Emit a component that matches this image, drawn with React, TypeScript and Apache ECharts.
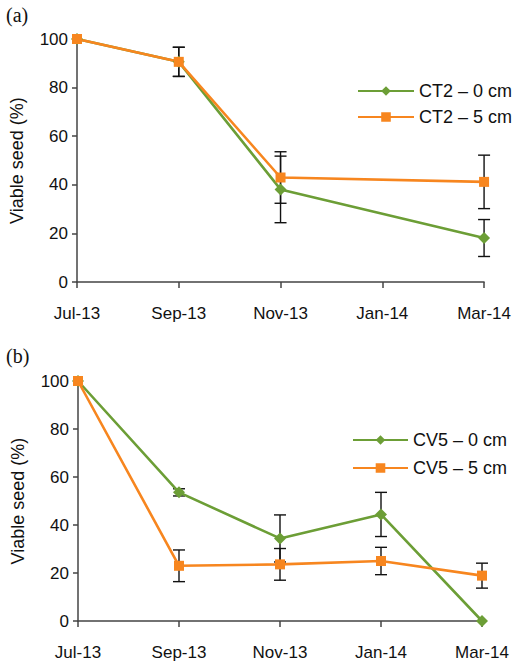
import React, { useEffect, useRef } from "react";
import * as echarts from "echarts";

const months = ["Jul-13", "Sep-13", "Nov-13", "Jan-14", "Mar-14"];

const ct2_0 = [100, 90.6, 38.1, null, 18.1];
const ct2_0_err = [0, 6, 13.7, null, 7.6];
const ct2_5 = [100, 90.6, 43.0, null, 41.2];
const ct2_5_err = [0, 6, 10.6, null, 11];

const cv5_0 = [100, 53.6, 34.4, 44.4, 0];
const cv5_0_err = [0, 1.5, 9.8, 9.2, 0];
const cv5_5 = [100, 23.0, 23.6, 25.0, 18.9];
const cv5_5_err = [0, 6.6, 6.6, 5.7, 5.2];

const GREEN = "#6c9e36";
const ORANGE = "#f7861f";
const FONT = "Liberation Sans, Arial, sans-serif";

function errData(vals: (number | null)[], errs: (number | null)[]) {
  const out: number[][] = [];
  vals.forEach((v, i) => {
    const e = errs[i];
    if (v != null && e != null && e > 0) out.push([i, v - e, v + e]);
  });
  return out;
}

function errSeries(idx: number, data: number[][]) {
  return {
    type: "custom",
    xAxisIndex: idx,
    yAxisIndex: idx,
    z: 2,
    silent: true,
    data,
    encode: { x: 0, y: [1, 2] },
    renderItem: (params: any, api: any) => {
      const x = api.value(0);
      const lo = api.coord([x, api.value(1)]);
      const hi = api.coord([x, api.value(2)]);
      const w = 6;
      const style = { stroke: "#111", lineWidth: 1.4 };
      return {
        type: "group",
        children: [
          { type: "line", shape: { x1: lo[0], y1: lo[1], x2: hi[0], y2: hi[1] }, style },
          { type: "line", shape: { x1: lo[0] - w, y1: lo[1], x2: lo[0] + w, y2: lo[1] }, style },
          { type: "line", shape: { x1: hi[0] - w, y1: hi[1], x2: hi[0] + w, y2: hi[1] }, style },
        ],
      };
    },
  };
}

function xAxis(idx: number) {
  return {
    type: "category",
    gridIndex: idx,
    data: months,
    boundaryGap: false,
    axisLine: { lineStyle: { color: "#444", width: 1.5 } },
    axisTick: { alignWithLabel: true, length: 6, lineStyle: { color: "#444", width: 1.5 } },
    axisLabel: { color: "#111", fontSize: 17, fontFamily: FONT, margin: 23 },
  };
}

function yAxis(idx: number) {
  return {
    type: "value",
    gridIndex: idx,
    min: 0,
    max: 100,
    interval: 20,
    name: "Viable seed (%)",
    nameLocation: "middle",
    nameGap: 51,
    nameTextStyle: { color: "#111", fontSize: 18, fontFamily: FONT },
    splitLine: { show: false },
    axisLine: { show: true, lineStyle: { color: "#444", width: 1.5 } },
    axisTick: { show: true, length: 5, lineStyle: { color: "#444", width: 1.5 } },
    axisLabel: { color: "#111", fontSize: 17, fontFamily: FONT, margin: 9 },
  };
}

function lineSeries(name: string, idx: number, data: (number | null)[], color: string, symbol: string, size: number) {
  return {
    type: "line",
    name,
    xAxisIndex: idx,
    yAxisIndex: idx,
    data,
    connectNulls: true,
    symbol,
    symbolSize: size,
    showAllSymbol: true,
    lineStyle: { color, width: 2.6 },
    itemStyle: { color },
    z: 3,
  };
}

export default function App() {
  const ref = useRef<HTMLDivElement>(null);
  useEffect(() => {
    if (!ref.current) return;
    const chart = echarts.init(ref.current, undefined, { renderer: "svg" });
    chart.setOption({
      animation: false,
      backgroundColor: "#fff",
      grid: [
        { left: 77, top: 39, width: 413, height: 243 },
        { left: 78, top: 381, width: 404, height: 240 },
      ],
      xAxis: [xAxis(0), xAxis(1)],
      yAxis: [yAxis(0), yAxis(1)],
      legend: [
        {
          data: ["CT2 – 0 cm", "CT2 – 5 cm"],
          orient: "vertical",
          left: 352,
          top: 77,
          itemWidth: 56,
          itemHeight: 12,
          itemGap: 8,
          textStyle: { color: "#111", fontSize: 18, fontFamily: FONT },
        },
        {
          data: ["CV5 – 0 cm", "CV5 – 5 cm"],
          orient: "vertical",
          left: 347,
          top: 426,
          itemWidth: 55,
          itemHeight: 12,
          itemGap: 10,
          textStyle: { color: "#111", fontSize: 18, fontFamily: FONT },
        },
      ],
      graphic: [
        { type: "text", left: 6, top: 5, style: { text: "(a)", fontSize: 20, fontFamily: "Liberation Serif, serif", fill: "#111" } },
        { type: "text", left: 6, top: 346, style: { text: "(b)", fontSize: 20, fontFamily: "Liberation Serif, serif", fill: "#111" } },
      ],
      series: [
        errSeries(0, errData(ct2_0, ct2_0_err)),
        errSeries(0, errData(ct2_5, ct2_5_err)),
        lineSeries("CT2 – 0 cm", 0, ct2_0, GREEN, "diamond", 12),
        lineSeries("CT2 – 5 cm", 0, ct2_5, ORANGE, "rect", 10),
        errSeries(1, errData(cv5_0, cv5_0_err)),
        errSeries(1, errData(cv5_5, cv5_5_err)),
        lineSeries("CV5 – 0 cm", 1, cv5_0, GREEN, "diamond", 12),
        lineSeries("CV5 – 5 cm", 1, cv5_5, ORANGE, "rect", 10),
      ],
    });
    return () => chart.dispose();
  }, []);
  return <div ref={ref} style={{ position: "absolute", left: 0, top: 0, width: 514, height: 663 }} />;
}
